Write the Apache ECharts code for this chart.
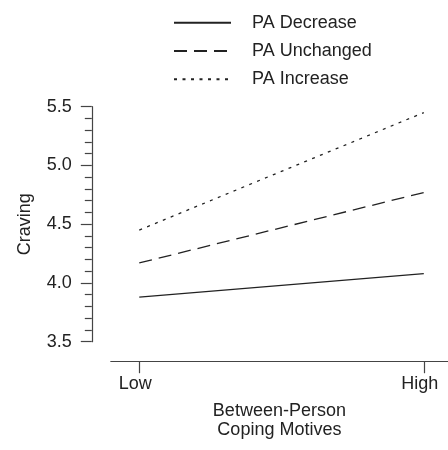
<!DOCTYPE html>
<html>
<head>
<meta charset="utf-8">
<script src="https://cdn.jsdelivr.net/npm/echarts@6/dist/echarts.min.js"></script>
<style>
html,body{margin:0;padding:0;background:#fff;}
#chart{width:448px;height:450px;}
</style>
</head>
<body>
<div id="chart"></div>
<script>
const categories = ['Low', 'High'];
const seriesNames = ['PA Decrease', 'PA Unchanged', 'PA Increase'];
const paDecrease = [3.88, 4.08];
const paUnchanged = [4.17, 4.77];
const paIncrease = [4.45, 5.45];
const yTicks = [3.5, 4.0, 4.5, 5.0, 5.5];

const FONT = '"Liberation Sans", Arial, Helvetica, sans-serif';
const INK = '#222';
const AXIS = '#444';

const valueSets = [paDecrease, paUnchanged, paIncrease];
const dashTypes = ['solid', [13, 7], [3, 5.5]];

const chart = echarts.init(document.getElementById('chart'), null, {renderer: 'canvas'});
chart.setOption({
  animation: false,
  backgroundColor: '#fff',
  textStyle: {fontFamily: FONT, color: INK},
  legend: {
    orient: 'vertical',
    left: 173,
    top: 13.7,
    padding: 0,
    itemWidth: 57,
    itemHeight: 18,
    itemGap: 10.3,
    data: seriesNames,
    itemStyle: {opacity: 0, color: 'transparent', borderWidth: 0},
    textStyle: {fontFamily: FONT, fontSize: 18, color: INK, padding: [0, 0, 0, 16]}
  },
  grid: {left: 110.8, right: 0, top: 106.7, bottom: 108.3, containLabel: false},
  xAxis: {
    type: 'value',
    min: -0.1,
    max: 1.085,
    offset: 19.5,
    name: 'Between-Person\nCoping Motives',
    nameLocation: 'middle',
    nameGap: 40,
    nameTextStyle: {fontFamily: FONT, fontSize: 18, color: INK, lineHeight: 19},
    axisLine: {show: true, onZero: false, lineStyle: {color: AXIS, width: 1.2}},
    axisTick: {show: true, length: 12, customValues: [0, 1], lineStyle: {color: AXIS, width: 1.2}},
    axisLabel: {
      show: true,
      customValues: [0, 1],
      margin: 14,
      fontFamily: FONT,
      fontSize: 18,
      color: INK,
      padding: [0, 8, 0, 0],
      formatter: v => categories[Math.round(v)]
    },
    splitLine: {show: false}
  },
  yAxis: {
    type: 'value',
    min: yTicks[0],
    max: yTicks[yTicks.length - 1],
    interval: 0.5,
    offset: 19,
    name: 'Craving',
    nameLocation: 'middle',
    nameGap: 58,
    nameTextStyle: {fontFamily: FONT, fontSize: 18, color: INK},
    axisLine: {show: true, onZero: false, lineStyle: {color: AXIS, width: 1.2}},
    axisTick: {show: true, length: 11, lineStyle: {color: AXIS, width: 1.2}},
    minorTick: {show: true, splitNumber: 5, length: 7, lineStyle: {color: AXIS, width: 1.2}},
    axisLabel: {margin: 20, fontFamily: FONT, fontSize: 18, color: INK, formatter: v => v.toFixed(1)},
    splitLine: {show: false},
    minorSplitLine: {show: false}
  },
  series: seriesNames.map((name, s) => ({
    name: name,
    type: 'line',
    symbol: 'none',
    data: categories.map((c, i) => [i, valueSets[s][i]]),
    lineStyle: {color: INK, width: 1.3, type: dashTypes[s]},
    itemStyle: {color: INK}
  }))
});
</script>
</body>
</html>
